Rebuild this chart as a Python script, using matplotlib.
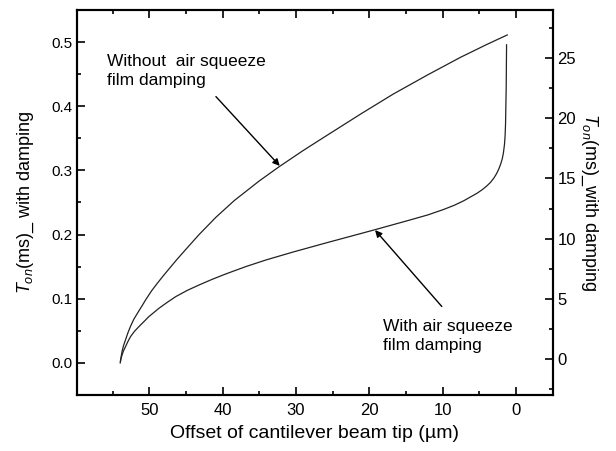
import matplotlib
matplotlib.use("Agg")
import matplotlib.pyplot as plt
from matplotlib.ticker import MultipleLocator

plt.rcParams["font.family"] = ["Liberation Sans", "DejaVu Sans"]
plt.rcParams["mathtext.fontset"] = "custom"
plt.rcParams["mathtext.rm"] = "Liberation Sans"
plt.rcParams["mathtext.it"] = "Liberation Sans:italic"

# curve without air squeeze film damping (left axis, ms)
offset_no_damp = [53.95, 53.85, 53.7, 53.5, 53.2, 52.9, 52.55, 52.1, 51.6, 51.0,
                  50.5, 49.7, 48.9, 48.1, 47.3, 46.2, 45.0, 43.2, 40.9, 38.4,
                  35.0, 32.25, 29.0, 25.84, 21.0, 16.71, 12.0, 7.58, 4.0, 1.18]
t_no_damp = [0.0, 0.008, 0.018, 0.027, 0.037, 0.047, 0.057, 0.068, 0.0775, 0.0885,
             0.098, 0.112, 0.124, 0.1355, 0.1465, 0.1615, 0.177, 0.200, 0.227, 0.253,
             0.2835, 0.306, 0.331, 0.354, 0.389, 0.419, 0.449, 0.476, 0.496, 0.511]

# curve with air squeeze film damping (right axis, ms)
offset_damp = [53.92, 53.82, 53.70, 53.5, 53.23, 52.9, 52.55, 52.0, 51.41, 50.04,
               48.67, 47.5, 46.38, 44.8, 43.19, 41.4, 39.53, 36.8, 34.05, 30.41,
               25.84, 19.45, 14.42, 12.0, 9.86, 8.4, 7.12, 5.29, 4.6, 3.92,
               3.45, 3.01, 2.65, 2.33, 2.08, 1.86, 1.7, 1.55, 1.47, 1.41,
               1.32, 1.27]
t_damp = [-0.2, 0.08, 0.33, 0.68, 1.02, 1.45, 1.85, 2.3, 2.68, 3.52,
          4.21, 4.72, 5.18, 5.70, 6.15, 6.62, 7.07, 7.68, 8.23, 8.88,
          9.65, 10.70, 11.55, 11.97, 12.42, 12.77, 13.14, 13.77, 14.06, 14.40,
          14.68, 15.02, 15.38, 15.78, 16.18, 16.62, 17.12, 17.85, 18.55, 19.5,
          22.6, 26.1]


def main() -> None:
    fig = plt.figure(figsize=(6.16, 4.51), dpi=100)
    ax = fig.add_axes([0.1255, 0.124, 0.7715, 0.854])
    ax2 = ax.twinx()

    ax.plot(offset_no_damp, t_no_damp, color="#222222", lw=0.9)
    ax2.plot(offset_damp, t_damp, color="#222222", lw=0.9)

    ax.set_xlim(59.8, -5)
    ax.set_ylim(-0.05, 0.55)
    ax2.set_ylim(-3, 29)

    ax.xaxis.set_major_locator(MultipleLocator(10))
    ax.xaxis.set_minor_locator(MultipleLocator(5))
    ax.yaxis.set_major_locator(MultipleLocator(0.1))
    ax.yaxis.set_minor_locator(MultipleLocator(0.05))
    ax2.yaxis.set_major_locator(MultipleLocator(5))
    ax2.yaxis.set_minor_locator(MultipleLocator(2.5))
    ax.yaxis.set_major_formatter(plt.FormatStrFormatter("%.1f"))

    ax.tick_params(axis="x", which="both", direction="in", top=True, labelsize=12, pad=6)
    ax.tick_params(axis="y", which="both", direction="in", right=False, labelsize=11)
    ax2.tick_params(axis="y", which="both", direction="in", labelsize=12)
    for a in (ax, ax2):
        a.tick_params(which="major", length=6, width=1.2)
        a.tick_params(which="minor", length=3, width=1.2)
        for sp in a.spines.values():
            sp.set_linewidth(1.5)

    ax.set_xlabel("Offset of cantilever beam tip (µm)", fontsize=14, labelpad=5)
    ax.set_ylabel(r"$T_{on}$(ms)_ with damping", fontsize=13, labelpad=11)
    ax2.set_ylabel(r"$T_{on}$(ms)_with damping", fontsize=13, rotation=-90,
                   labelpad=17)

    ax.annotate("", xy=(32.2, 0.307), xytext=(40.9, 0.415),
                arrowprops=dict(arrowstyle="-|>", color="black", lw=1.0,
                                mutation_scale=10, shrinkA=0, shrinkB=0))
    ax.text(55.75, 0.455, "Without  air squeeze\nfilm damping", fontsize=12.5,
            ha="left", va="center", linespacing=1.35)

    ax.annotate("", xy=(19.2, 0.207), xytext=(10.1, 0.088),
                arrowprops=dict(arrowstyle="-|>", color="black", lw=1.0,
                                mutation_scale=10, shrinkA=0, shrinkB=0))
    ax.text(18.16, 0.042, "With air squeeze\nfilm damping", fontsize=12.5,
            ha="left", va="center", linespacing=1.35)

    fig.savefig("out.png", dpi=100)


if __name__ == "__main__":
    main()
